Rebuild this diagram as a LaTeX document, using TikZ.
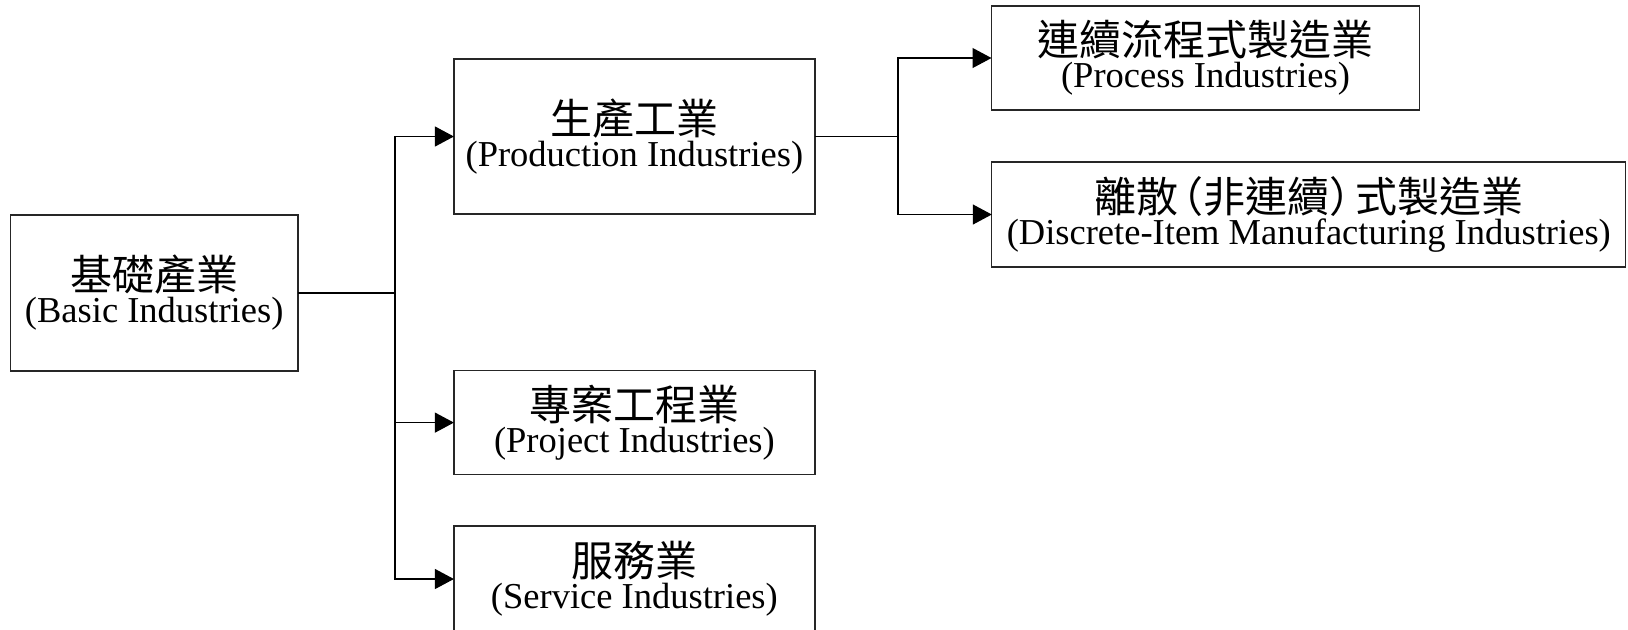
\documentclass[tikz,border=0pt]{standalone}
\usepackage{fontspec}
\setmainfont{Liberation Serif}
\newfontfamily\cjk{Noto Sans CJK TC}
\usetikzlibrary{arrows.meta}
\newcommand\twol[2]{\vbox{\baselineskip=16pt\lineskiplimit=-100pt\lineskip=0pt\halign{\hfil##\hfil\cr{\cjk\fontsize{21pt}{21pt}\selectfont #1}\cr #2\cr}}}
\tikzset{
  box/.style={draw=black!85, line width=0.6pt, rectangle, inner sep=0pt, outer sep=0pt,
    font=\fontsize{18.25pt}{16pt}\selectfont},
  conn/.style={draw=black, line width=0.6pt},
  arr/.style={conn, -{Triangle[length=9.5pt,width=10pt]}}
}
\begin{document}
\begin{tikzpicture}[x=0.5pt,y=-0.5pt]
\useasboundingbox (0,0) rectangle (1628,629);
\node[box, minimum width=143.75pt, minimum height=78pt] (basic) at (154.2,293) {\twol{基礎產業}{(Basic Industries)}};
\node[box, minimum width=180.5pt, minimum height=77.5pt] (prod) at (634.4,136.5) {\twol{生產工業}{(Production Industries)}};
\node[box, minimum width=180.5pt, minimum height=52pt] (proj) at (634.4,422.6) {\twol{專案工程業}{(Project Industries)}};
\node[box, minimum width=180.5pt, minimum height=53pt] (serv) at (634.4,579) {\twol{服務業}{(Service Industries)}};
\node[box, minimum width=214pt, minimum height=52pt] (proc) at (1205.5,58) {\twol{連續流程式製造業}{(Process Industries)}};
\node[box, minimum width=317pt, minimum height=52.5pt] (disc) at (1308.8,214.5) {\twol{離散\kern-0.4em（非連續）\kern-0.4em式製造業}{(Discrete-Item Manufacturing Industries)}};
\coordinate (j1) at (395,293);
\coordinate (j2) at (898,136.5);
\draw[conn] (basic.east) -- (j1);
\draw[arr] (j1) |- (prod.west);
\draw[arr] (j1) |- (proj.west);
\draw[arr] (j1) |- (serv.west);
\draw[conn] (prod.east) -- (j2);
\draw[arr] (j2) |- (proc.west);
\draw[arr] (j2) |- (disc.west);
\end{tikzpicture}
\end{document}
